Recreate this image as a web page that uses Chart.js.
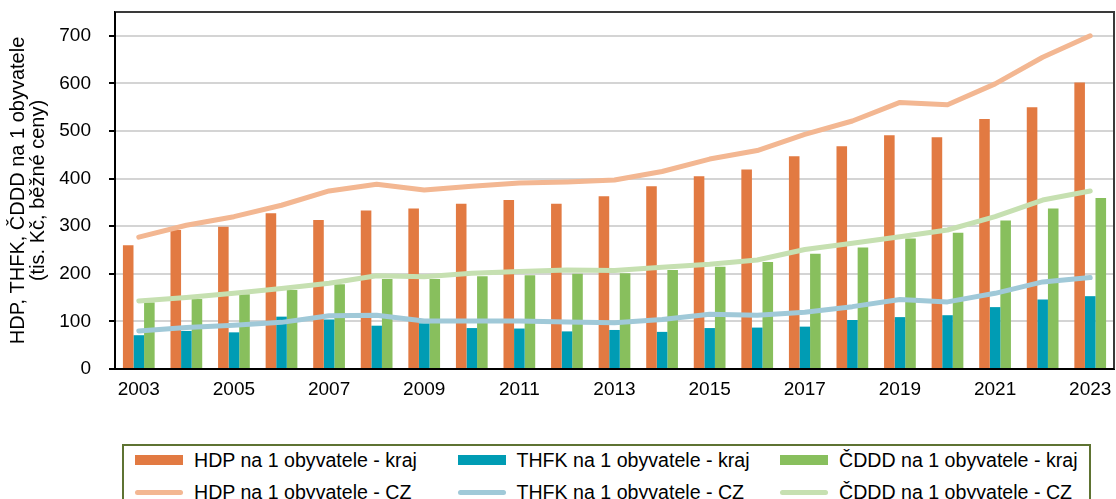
<!DOCTYPE html>
<html>
<head>
<meta charset="utf-8">
<script src="https://cdn.jsdelivr.net/npm/chart.js@4.4.1/dist/chart.umd.min.js"></script>
<style>
  html, body { margin: 0; padding: 0; background: #fff; }
  body { width: 1116px; height: 499px; position: relative; overflow: hidden; font-family: 'Liberation Sans', Arial, sans-serif; }
  #wrap { position: absolute; left: 0; top: 0; width: 1116px; height: 420px; }
  #legend { position: absolute; left: 122px; top: 444px; width: 969px; height: 70px; border: 2px solid #5e7332; box-sizing: border-box; }
  .sw { position: absolute; }
  .lt { position: absolute; font-size: 19.6px; line-height: 20px; color: #000; white-space: nowrap; }
</style>
</head>
<body>
<div id="wrap"><canvas id="c" width="1116" height="420"></canvas></div>
<div id="legend"></div>
<script>
const years = ['2003','2004','2005','2006','2007','2008','2009','2010','2011','2012','2013','2014','2015','2016','2017','2018','2019','2020','2021','2022','2023'];
const hdpKraj  = [260, 292, 299, 327, 313, 333, 337, 347, 355, 347, 363, 384, 405, 419, 447, 468, 491, 487, 525, 550, 602];
const thfkKraj = [71, 80, 77, 110, 104, 91, 96, 86, 85, 79, 82, 78, 86, 87, 89, 103, 109, 113, 130, 146, 153];
const cdddKraj = [140, 147, 157, 166, 178, 189, 189, 195, 197, 200, 201, 208, 215, 225, 242, 255, 274, 286, 312, 337, 359];
const hdpCZ    = [277, 302, 320, 344, 374, 388, 376, 384, 391, 393, 397, 415, 441, 459, 493, 521, 560, 555, 599, 655, 700];
const thfkCZ   = [80, 87, 92, 98, 112, 113, 101, 101, 101, 99, 97, 104, 115, 113, 119, 131, 146, 141, 159, 183, 192];
const cdddCZ   = [143, 150, 159, 169, 180, 196, 194, 201, 205, 208, 207, 214, 220, 229, 251, 264, 278, 292, 320, 355, 374];
const seriesNames = ['HDP na 1 obyvatele - kraj','THFK na 1 obyvatele - kraj','ČDDD na 1 obyvatele - kraj','HDP na 1 obyvatele - CZ','THFK na 1 obyvatele - CZ','ČDDD na 1 obyvatele - CZ'];
const yTitle = ['HDP, THFK, ČDDD na 1 obyvatele', '(tis. Kč, běžné ceny)'];

const colors = ['#e27a42', '#009cb4', '#88bf5d', '#f3b792', '#a0c9d8', '#c6e0b1'];
const FONT = "'Liberation Sans', Arial, sans-serif";

const borderPlugin = {
  id: 'plotBorder',
  afterDraw(chart) {
    const {ctx, chartArea: a} = chart;
    ctx.save();
    ctx.strokeStyle = '#3a3a3a';
    ctx.lineWidth = 2;
    ctx.beginPath();
    ctx.moveTo(a.left, a.top); ctx.lineTo(a.right, a.top); ctx.lineTo(a.right, a.bottom);
    ctx.stroke();
    ctx.strokeStyle = '#000';
    ctx.beginPath();
    ctx.moveTo(a.left, a.top); ctx.lineTo(a.left, a.bottom); ctx.lineTo(a.right, a.bottom);
    ctx.stroke();
    ctx.restore();
  }
};

const barDs = (label, data, color) => ({
  type: 'bar', label, data, backgroundColor: color, borderWidth: 0,
  categoryPercentage: 0.667, barPercentage: 1.0, order: 2
});
const lineDs = (label, data, color) => ({
  type: 'line', label, data, borderColor: color, backgroundColor: color, borderWidth: 5,
  pointRadius: 0, tension: 0, borderCapStyle: 'round', borderJoinStyle: 'round', order: 1
});

new Chart(document.getElementById('c'), {
  data: {
    labels: years,
    datasets: [
      barDs(seriesNames[0], hdpKraj, colors[0]),
      barDs(seriesNames[1], thfkKraj, colors[1]),
      barDs(seriesNames[2], cdddKraj, colors[2]),
      lineDs(seriesNames[3], hdpCZ, colors[3]),
      lineDs(seriesNames[4], thfkCZ, colors[4]),
      lineDs(seriesNames[5], cdddCZ, colors[5])
    ]
  },
  options: {
    responsive: false,
    animation: false,
    devicePixelRatio: 1,
    layout: { padding: { top: 12, right: 2, left: 0, bottom: 0 } },
    plugins: { legend: { display: false }, tooltip: { enabled: false } },
    scales: {
      x: {
        type: 'category',
        offset: true,
        grid: { display: false, drawTicks: false },
        border: { display: true, color: '#000', width: 2 },
        ticks: {
          autoSkip: false, maxRotation: 0, minRotation: 0, padding: 9,
          color: '#000', font: { family: FONT, size: 19 },
          callback: function(v, i) { return i % 2 === 0 ? years[i] : ''; }
        },
        afterFit: (s) => { s.height = 51; s.paddingLeft = 0; s.paddingRight = 0; }
      },
      y: {
        min: 0, max: 750,
        grid: { color: '#d4d4d4', lineWidth: 2, tickColor: '#000', tickLength: 6, tickWidth: 2 },
        border: { display: true, color: '#000', width: 2 },
        ticks: {
          stepSize: 100, includeBounds: false, padding: 18,
          color: '#000', font: { family: FONT, size: 19 }
        },
        title: {
          display: true, text: yTitle, color: '#000',
          font: { family: FONT, size: 20, lineHeight: 1.03 },
          padding: { top: 8, bottom: 0 }
        },
        afterFit: (s) => { s.width = 115; s.paddingTop = 0; s.paddingBottom = 0; }
      }
    }
  },
  plugins: [borderPlugin]
});

// HTML legend
const legend = document.getElementById('legend');
const colLeft = [135, 457.5, 780];
const rowCenter = [460, 492];
seriesNames.forEach((name, i) => {
  const c = i % 3, r = Math.floor(i / 3);
  const sw = document.createElement('div');
  sw.className = 'sw';
  const left = colLeft[c] - 122 - 2;
  const cy = rowCenter[r] - 444 - 2;
  sw.style.left = left + 'px';
  sw.style.width = '48px';
  sw.style.background = colors[i];
  if (r === 0) { sw.style.height = '10px'; sw.style.top = (cy - 5) + 'px'; }
  else { sw.style.height = '5px'; sw.style.top = (cy - 2.5) + 'px'; sw.style.borderRadius = '3px'; }
  legend.appendChild(sw);
  const t = document.createElement('div');
  t.className = 'lt';
  t.textContent = name;
  t.style.left = (left + 59) + 'px';
  t.style.top = (cy - 10) + 'px';
  legend.appendChild(t);
});
</script>
</body>
</html>
